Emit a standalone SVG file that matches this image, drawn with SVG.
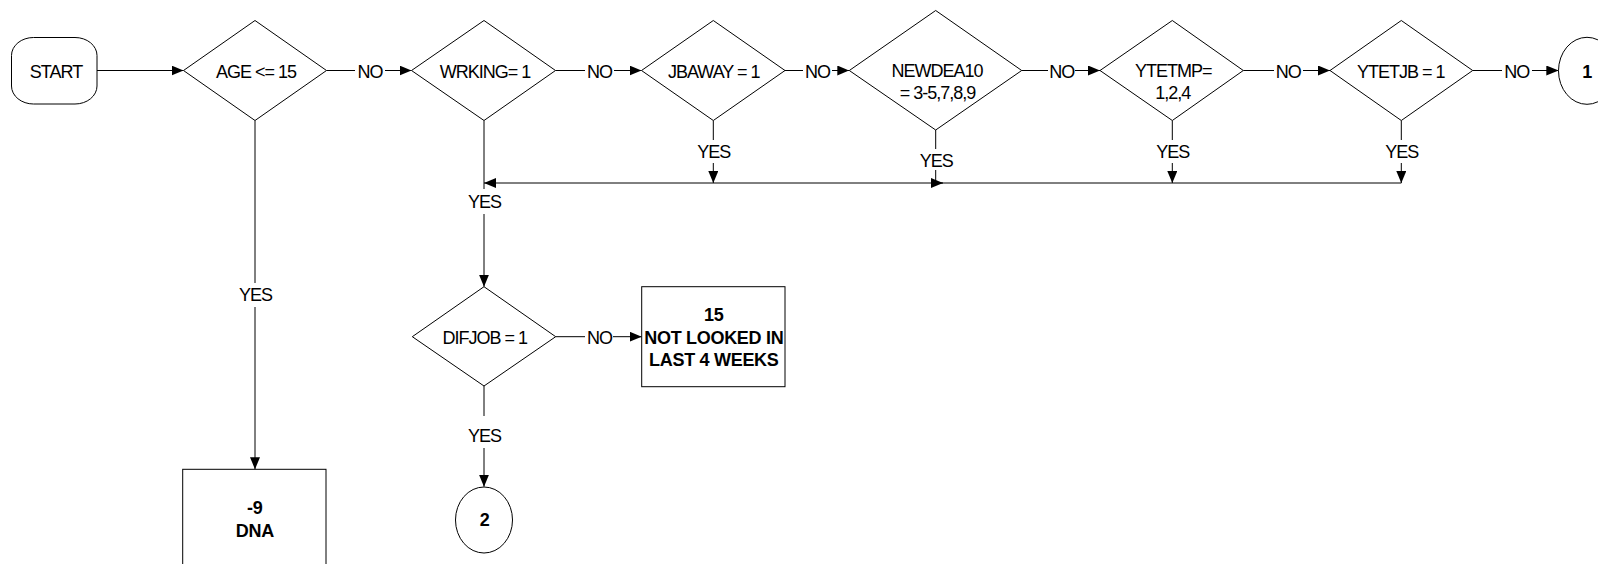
<svg xmlns="http://www.w3.org/2000/svg" width="1598" height="564" viewBox="0 0 1598 564">
<style>
.shape{fill:#fff;stroke:#000;stroke-width:1}
.ln{fill:none;stroke:#000;stroke-width:1}
.t{font-family:"Liberation Sans",Arial,sans-serif;font-size:18px;letter-spacing:-1px;text-anchor:middle;fill:#000}
.b{font-family:"Liberation Sans",Arial,sans-serif;font-size:18px;font-weight:bold;letter-spacing:-0.3px;text-anchor:middle;fill:#000}
</style>
<defs>
<marker id="arr" markerUnits="userSpaceOnUse" viewBox="0 0 12 10" refX="12" refY="5" markerWidth="12" markerHeight="10" orient="auto">
<path d="M0,0 L12,5 L0,10 z" fill="#000"/>
</marker>
</defs>
<rect width="1598" height="564" fill="#fff"/>

<g id="connectors">
<path class="ln" d="M97,70.5 H183.5" marker-end="url(#arr)"/>
<path class="ln" d="M326.5,70.5 H355 M385,70.5 H411.5" marker-end="url(#arr)"/>
<text class="t" x="370" y="77.5">NO</text>
<path class="ln" d="M555.5,70.5 H585 M614,70.5 H641.5" marker-end="url(#arr)"/>
<text class="t" x="599.5" y="77.5">NO</text>
<path class="ln" d="M785,70.5 H803 M832,70.5 H849.3" marker-end="url(#arr)"/>
<text class="t" x="817.5" y="77.5">NO</text>
<path class="ln" d="M1021.7,70.5 H1048 M1075,70.5 H1100" marker-end="url(#arr)"/>
<text class="t" x="1061.7" y="77.5">NO</text>
<path class="ln" d="M1243.3,70.5 H1274 M1303,70.5 H1330" marker-end="url(#arr)"/>
<text class="t" x="1288.3" y="77.5">NO</text>
<path class="ln" d="M1472.7,70.5 H1502 M1532,70.5 H1558.3" marker-end="url(#arr)"/>
<text class="t" x="1516.7" y="77.5">NO</text>

<path class="ln" d="M255,120.5 V283 M255,307 V469.3" marker-end="url(#arr)"/>
<text class="t" x="255.5" y="300.5">YES</text>

<path class="ln" d="M484,120.5 V189 M484,214 V286.7" marker-end="url(#arr)"/>
<text class="t" x="484.5" y="208">YES</text>
<path class="ln" d="M1401.3,183 H484" marker-end="url(#arr)"/>

<path class="ln" d="M713.3,120.5 V140 M713.3,163 V183" marker-end="url(#arr)"/>
<text class="t" x="713.8" y="158">YES</text>
<path class="ln" d="M935.7,130 V149 M935.7,170 V183 H943" marker-end="url(#arr)"/>
<text class="t" x="936.2" y="167">YES</text>
<path class="ln" d="M1172.3,120.5 V140 M1172.3,163 V183" marker-end="url(#arr)"/>
<text class="t" x="1172.8" y="158">YES</text>
<path class="ln" d="M1401.3,120.5 V140 M1401.3,163 V183" marker-end="url(#arr)"/>
<text class="t" x="1401.8" y="157.5">YES</text>

<path class="ln" d="M555.7,336.7 H585 M613,336.7 H641.7" marker-end="url(#arr)"/>
<text class="t" x="599.5" y="343.5">NO</text>
<path class="ln" d="M484,386 V416 M484,448 V486.7" marker-end="url(#arr)"/>
<text class="t" x="484.5" y="442">YES</text>
</g>

<g id="start">
<rect class="shape" x="11.5" y="37.5" width="85.5" height="66.5" rx="22" ry="18"/>
<text class="t" x="56" y="77.5">START</text>
</g>
<g id="age">
<polygon class="shape" points="183.5,70.5 255,20.5 326.5,70.5 255,120.5"/>
<text class="t" x="256" y="77.5">AGE &lt;= 15</text>
</g>
<g id="wrking">
<polygon class="shape" points="411.5,70.5 484,20.5 555.5,70.5 484,120.5"/>
<text class="t" x="485" y="77.5">WRKING= 1</text>
</g>
<g id="jbaway">
<polygon class="shape" points="641.5,70.5 713.3,20.5 785,70.5 713.3,120.5"/>
<text class="t" x="713.8" y="77.5">JBAWAY = 1</text>
</g>
<g id="newdea10">
<polygon class="shape" points="849.3,70.5 935.7,10.5 1021.7,70.5 935.7,130"/>
<text class="t" x="937" y="77">NEWDEA10</text>
<text class="t" x="937.5" y="99">= 3-5,7,8,9</text>
</g>
<g id="ytetmp">
<polygon class="shape" points="1100,70.5 1172.3,20.5 1243.3,70.5 1172.3,120.5"/>
<text class="t" x="1173.3" y="77">YTETMP=</text>
<text class="t" x="1172.8" y="99">1,2,4</text>
</g>
<g id="ytetjb">
<polygon class="shape" points="1330,70.5 1401.3,20.5 1472.7,70.5 1401.3,120.5"/>
<text class="t" x="1400.8" y="77.5">YTETJB = 1</text>
</g>
<g id="connector1">
<ellipse class="shape" cx="1587" cy="70.8" rx="28.5" ry="33.5"/>
<text class="b" x="1587" y="77.5">1</text>
</g>
<g id="difjob">
<polygon class="shape" points="412.3,336.7 484,286.7 555.7,336.7 484,386"/>
<text class="t" x="484.7" y="343.5">DIFJOB = 1</text>
</g>
<g id="notlooked">
<rect class="shape" x="641.7" y="286.7" width="143.3" height="100"/>
<text class="b" x="713.8" y="320.5">15</text>
<text class="b" x="713.8" y="344">NOT LOOKED IN</text>
<text class="b" x="713.8" y="365.5">LAST 4 WEEKS</text>
</g>
<g id="dna">
<rect class="shape" x="182.7" y="469.3" width="143.3" height="120"/>
<text class="b" x="254.8" y="513.5">-9</text>
<text class="b" x="254.8" y="536.5">DNA</text>
</g>
<g id="connector2">
<ellipse class="shape" cx="484" cy="520" rx="28.5" ry="33"/>
<text class="b" x="484.5" y="526">2</text>
</g>
</svg>
